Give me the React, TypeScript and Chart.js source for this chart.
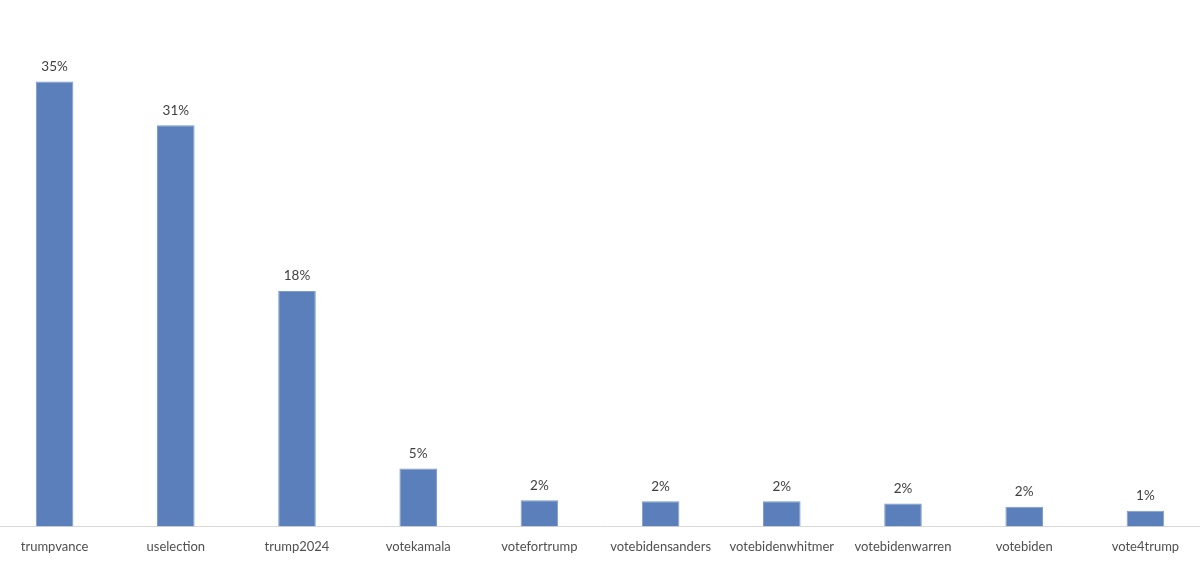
import React, { useEffect, useRef } from "react";
import { Chart, registerables } from "chart.js";

Chart.register(...registerables);

const categories = [
  "trumpvance",
  "uselection",
  "trump2024",
  "votekamala",
  "votefortrump",
  "votebidensanders",
  "votebidenwhitmer",
  "votebidenwarren",
  "votebiden",
  "vote4trump",
];
const shares = [34.6, 31.2, 18.3, 4.5, 2.04, 1.96, 1.96, 1.79, 1.52, 1.21];
const shareLabels = ["35%", "31%", "18%", "5%", "2%", "2%", "2%", "2%", "2%", "1%"];

const FONT = "Lato, 'Open Sans', sans-serif";

const valueLabelPlugin = {
  id: "valueLabels",
  afterDatasetsDraw(chart: any) {
    const { ctx } = chart;
    const meta = chart.getDatasetMeta(0);
    ctx.save();
    ctx.font = `13.5px ${FONT}`;
    ctx.fillStyle = "#404040";
    ctx.textAlign = "center";
    ctx.textBaseline = "middle";
    meta.data.forEach((bar: any, i: number) => {
      ctx.fillText(shareLabels[i], bar.x, bar.y - 15);
    });
    ctx.restore();
  },
};

export default function App() {
  const ref = useRef<HTMLCanvasElement | null>(null);
  useEffect(() => {
    if (!ref.current) return;
    const chart = new Chart(ref.current, {
      type: "bar",
      data: {
        labels: categories,
        datasets: [
          {
            data: shares,
            backgroundColor: "#5b7fba",
            borderColor: "#7d9bcb",
            borderWidth: 1,
            barPercentage: 0.31,
            categoryPercentage: 1,
          },
        ],
      },
      options: {
        responsive: false,
        animation: false,
        layout: { padding: { top: 12, bottom: 13, left: 0, right: 0 } },
        plugins: {
          legend: { display: false },
          tooltip: { enabled: false },
        },
        scales: {
          x: {
            grid: { display: false, drawTicks: false },
            border: { display: true, color: "#d9d9d9", width: 1 },
            ticks: {
              color: "#505050",
              font: { family: FONT, size: 13 },
              padding: 13,
              maxRotation: 0,
              autoSkip: false,
            },
          },
          y: {
            display: false,
            min: 0,
            max: 40,
          },
        },
      },
      plugins: [valueLabelPlugin],
    });
    return () => chart.destroy();
  }, []);
  return (
    <div style={{ position: "fixed", left: -6, top: 0, width: 1212, height: 581, background: "#fff" }}>
      <canvas ref={ref} width={1212} height={581} style={{ display: "block" }} />
    </div>
  );
}
